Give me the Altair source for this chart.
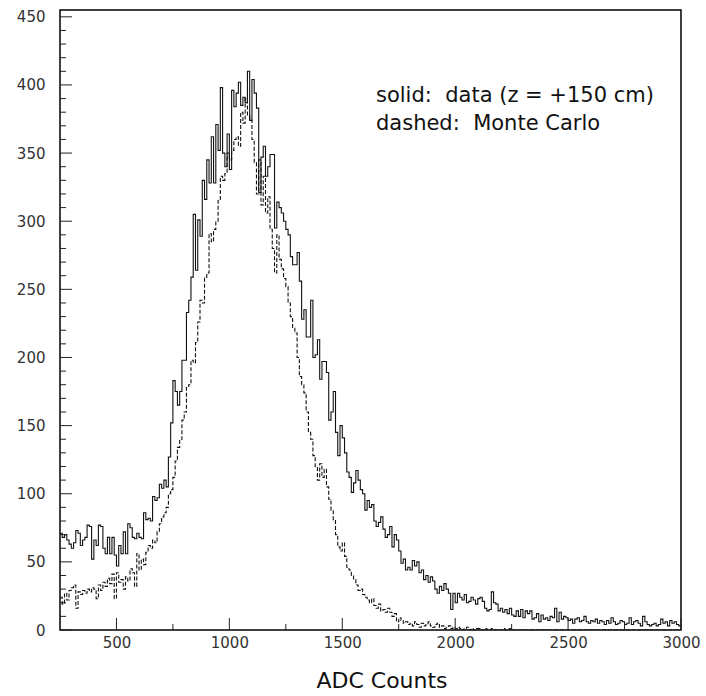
import altair as alt
import pandas as pd

# ---------------- data ----------------
BIN_LO = 250
BIN_HI = 3000
BIN_W = 10

# solid histogram: data (z = +150 cm), one value per 10-count bin starting at 250
data_counts = (
    [71, 68, 70, 66, 63, 60, 64, 73, 71, 62]
    + [66, 68, 77, 76, 52, 66, 62, 77, 76, 60]
    + [56, 68, 56, 68, 55, 47, 62, 56, 72, 56]
    + [78, 75, 68, 67, 71, 68, 67, 86, 81, 82]
    + [80, 98, 95, 97, 107, 104, 110, 105, 127, 152]
    + [183, 175, 165, 175, 198, 198, 233, 242, 259, 305]
    + [264, 301, 289, 330, 316, 345, 328, 362, 328, 371]
    + [352, 398, 350, 340, 364, 338, 396, 384, 394, 402]
    + [385, 391, 387, 410, 374, 404, 394, 383, 321, 347]
    + [355, 333, 340, 349, 349, 295, 314, 310, 306, 300]
    + [294, 290, 274, 268, 268, 277, 256, 228, 235, 215]
    + [215, 242, 200, 202, 213, 184, 197, 197, 189, 154]
    + [160, 175, 145, 128, 150, 141, 130, 116, 112, 101]
    + [108, 117, 110, 103, 100, 88, 95, 90, 92, 80]
    + [76, 79, 83, 74, 68, 70, 76, 61, 70, 66]
    + [58, 49, 52, 44, 46, 44, 51, 47, 50, 42]
    + [44, 37, 40, 35, 39, 36, 30, 27, 32, 29]
    + [34, 30, 27, 15, 27, 20, 27, 24, 22, 26]
    + [20, 21, 24, 22, 19, 23, 24, 21, 16, 14]
    + [15, 28, 20, 19, 14, 16, 13, 15, 12, 16]
    + [11, 10, 14, 10, 15, 9, 14, 12, 14, 8]
    + [9, 12, 6, 11, 8, 9, 7, 10, 9, 16]
    + [6, 13, 8, 10, 9, 7, 8, 5, 8, 9]
    + [6, 7, 10, 6, 5, 7, 6, 8, 5, 7]
    + [6, 4, 7, 5, 9, 6, 4, 5, 7, 6]
    + [4, 5, 9, 4, 6, 7, 5, 3, 10, 6]
    + [4, 3, 4, 5, 3, 4, 8, 5, 6, 3]
    + [7, 5, 6, 4, 3]
)

# dashed histogram: Monte Carlo
mc_counts = (
    [24, 19, 27, 22, 29, 31, 33, 16, 28, 26]
    + [29, 27, 30, 28, 31, 30, 23, 33, 29, 35]
    + [32, 38, 34, 41, 23, 42, 35, 37, 30, 39]
    + [36, 45, 42, 32, 56, 44, 52, 48, 57, 62]
    + [60, 66, 64, 72, 78, 83, 86, 90, 100, 103]
    + [112, 124, 134, 140, 154, 160, 178, 180, 198, 196]
    + [211, 226, 242, 240, 259, 262, 291, 285, 294, 300]
    + [315, 333, 330, 335, 350, 345, 352, 360, 362, 355]
    + [380, 372, 390, 378, 374, 360, 343, 320, 345, 312]
    + [333, 306, 318, 294, 280, 262, 290, 272, 265, 258]
    + [252, 240, 230, 222, 218, 200, 186, 180, 174, 160]
    + [145, 140, 128, 120, 110, 122, 112, 118, 105, 96]
    + [88, 81, 70, 61, 58, 64, 54, 46, 44, 40]
    + [37, 33, 29, 30, 26, 24, 22, 20, 23, 18]
    + [16, 19, 14, 15, 13, 16, 13, 10, 12, 6]
    + [9, 7, 5, 6, 4, 5, 3, 6, 4, 2]
    + [5, 3, 4, 6, 3, 2, 4, 5, 2, 3]
    + [1, 2, 3, 1, 2, 1, 2, 1, 0, 1]
    + [2, 0, 1, 0, 1, 1, 0, 0, 1, 0]
    + [0, 1, 0, 0, 0, 0, 1, 0, 0, 1]
    + [0, 0, 0, 0, 0, 0, 0, 0, 0, 0]
    + [0, 0, 0, 0, 0, 0, 0, 0, 0, 0]
    + [0, 0, 0, 0, 0, 0, 0, 0, 0, 0]
    + [0, 0, 0, 0, 0, 0, 0, 0, 0, 0]
    + [0, 0, 0, 0, 0, 0, 0, 0, 0, 0]
    + [0, 0, 0, 0, 0, 0, 0, 0, 0, 0]
    + [0, 0, 0, 0, 0, 0, 0, 0, 0, 0]
    + [0, 0, 0, 0, 0]
)

x_label_ticks = [500, 1000, 1500, 2000, 2500, 3000]
x_minor_ticks = [750, 1250, 1750, 2250, 2750]
y_label_ticks = [0, 50, 100, 150, 200, 250, 300, 350, 400, 450]
y_minor_ticks = [v for v in range(0, 451, 10) if v % 50 != 0]

legend_lines = ["solid:\u00a0 data (z = +150 cm)", "dashed:\u00a0 Monte Carlo"]
x_title = "ADC Counts"

# ---------------- tables ----------------
def hist_frame(counts):
    edges = [BIN_LO + i * BIN_W for i in range(len(counts))] + [BIN_HI]
    return pd.DataFrame({"adc": edges, "count": list(counts) + [counts[-1]]})

df_data = hist_frame(data_counts)
df_mc = hist_frame(mc_counts)

xs = alt.Scale(domain=[BIN_LO, BIN_HI], nice=False, zero=False)
ys = alt.Scale(domain=[0, 455], nice=False, zero=True)

TICK_FONT = "DejaVu Sans"
TEXT_FONT = "DejaVu Sans"

x_axis = alt.Axis(
    values=x_label_ticks, format="d", tickSize=0, ticks=False, domain=False, grid=False,
    labelFont=TICK_FONT, labelFontSize=15, labelColor="#333333",
    labelPadding=5, labelOverlap=False, labelFlush=False, title=None)
y_axis = alt.Axis(
    values=y_label_ticks, format="d", tickSize=0, ticks=False, domain=False, grid=False,
    labelFont=TICK_FONT, labelFontSize=15, labelColor="#333333",
    labelPadding=15, labelOverlap=False, labelFlush=False, title=None)

X = lambda f: alt.X(f, scale=xs, axis=x_axis)
Y = lambda f: alt.Y(f, scale=ys, axis=y_axis)

solid = alt.Chart(df_data).mark_line(
    interpolate="step-after", color="#111111", strokeWidth=1.1, clip=True
).encode(x=X("adc:Q"), y=Y("count:Q"))

dashed = alt.Chart(df_mc).mark_line(
    interpolate="step-after", color="#111111", strokeWidth=1.1,
    strokeDash=[4, 2], clip=True
).encode(x=X("adc:Q"), y=Y("count:Q"))

def yticks(vals, length):
    return alt.Chart(pd.DataFrame({"v": vals})).mark_rule(
        color="#222222", strokeWidth=1
    ).encode(y=Y("v:Q"), x=alt.value(0), x2=alt.value(length))

def xticks(vals, length):
    return alt.Chart(pd.DataFrame({"v": vals})).mark_rule(
        color="#222222", strokeWidth=1
    ).encode(x=X("v:Q"), y=alt.value(620), y2=alt.value(620 - length))

def text_layer(txt, x, y, size, align):
    return alt.Chart(pd.DataFrame({"t": [txt]})).mark_text(
        align=align, baseline="alphabetic", font=TEXT_FONT, fontSize=size, color="#111111"
    ).encode(text="t:N", x=alt.value(x), y=alt.value(y))

chart = alt.layer(
    solid, dashed,
    yticks(y_label_ticks, 12), yticks(y_minor_ticks, 6),
    xticks(x_label_ticks, 12), xticks(x_minor_ticks, 6),
    text_layer(legend_lines[0], 316, 92, 21, "left"),
    text_layer(legend_lines[1], 316, 120, 21, "left"),
    text_layer(x_title, 322, 678, 22, "center"),
).properties(
    width=621, height=620,
    autosize=alt.AutoSizeParams(type="none"),
    padding={"left": 60, "top": 10, "right": 25, "bottom": 66},
    background="white",
).configure_view(stroke="#000000", strokeWidth=1.5)

chart.save("out.html", embed_options={"renderer": "svg", "actions": False})
